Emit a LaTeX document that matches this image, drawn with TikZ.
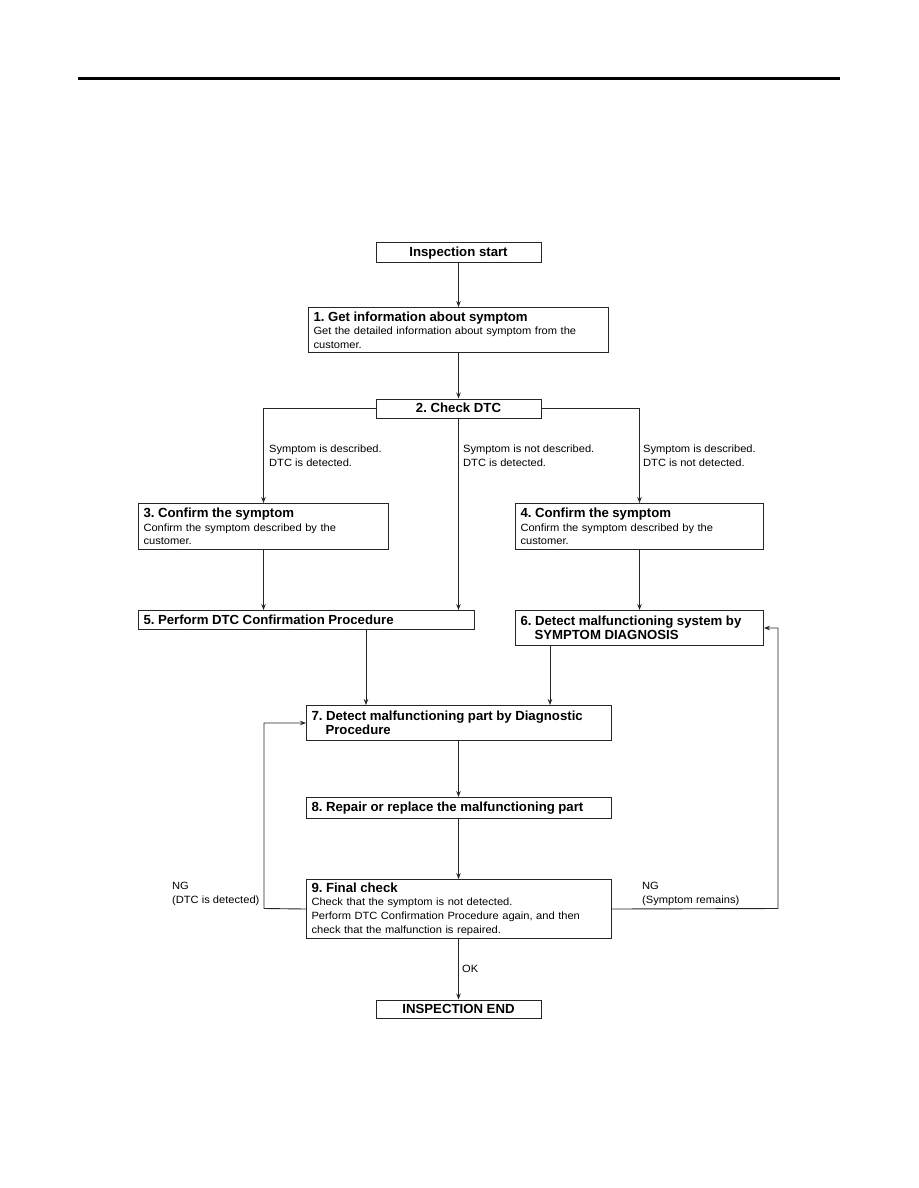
\documentclass[tikz,border=0pt]{standalone}
\usepackage{fontspec}
\setmainfont{Liberation Sans}
\newfontfamily\bodyfam[FakeStretch=1.06]{Liberation Sans}
\usetikzlibrary{arrows.meta}
\frenchspacing
\newcommand{\bodyfont}{\bodyfam\fontsize{10.5}{13.7}\selectfont}
\newcommand{\ttlfont}{\rmfamily\fontsize{13.2}{13.7}\selectfont\bfseries}
\tikzset{
  box/.style={draw=black!85, line width=1pt, anchor=north west, align=left,
    inner xsep=5pt, inner ysep=0pt, font=\bodyfont},
  cbox/.style={draw=black!85, line width=1pt, align=center, inner sep=0pt,
    text height=9.6pt, text depth=0.9pt, font=\ttlfont},
  conn/.style={draw=black!85, line width=0.9pt, -{Stealth[length=6pt,width=4.5pt]}},
  lbl/.style={font=\bodyfont, align=left, anchor=north west, inner sep=0pt},
  rule/.style={line width=3pt}
}
\begin{document}
\begin{tikzpicture}[x=1pt,y=-1pt]
\useasboundingbox (0,0) rectangle (918,1188);
\coordinate (rl) at (78,79);
\coordinate (rr) at (840,79);
\draw[rule] (rl) -- (rr);

\node[cbox, minimum width=165, minimum height=20] (start) at (458.5,252) {Inspection start};
\node[box, minimum width=300, minimum height=45, text width=290] (b1) at (308,307)
  {{\ttlfont 1. Get information about symptom}\\Get the detailed information about symptom from the\\customer.};
\node[cbox, minimum width=165, minimum height=19] (b2) at (458.5,408.5) {2. Check DTC};
\node[box, minimum width=250, minimum height=46, text width=240] (b3) at (138,503)
  {{\ttlfont 3. Confirm the symptom}\\Confirm the symptom described by the\\customer.};
\node[box, minimum width=248, minimum height=46, text width=238] (b4) at (515,503)
  {{\ttlfont 4. Confirm the symptom}\\Confirm the symptom described by the\\customer.};
\node[box, minimum width=336, minimum height=19, text width=326] (b5) at (138,610)
  {\ttlfont 5. Perform DTC Confirmation Procedure};
\node[box, minimum width=248, minimum height=35, text width=238] (b6) at (515,610)
  {\ttlfont 6. Detect malfunctioning system by\\\ttlfont\hspace*{14pt}SYMPTOM DIAGNOSIS};
\node[box, minimum width=305, minimum height=35, text width=295] (b7) at (306,705)
  {\ttlfont 7. Detect malfunctioning part by Diagnostic\\\ttlfont\hspace*{14pt}Procedure};
\node[box, minimum width=305, minimum height=21, text width=295] (b8) at (306,797)
  {\ttlfont 8. Repair or replace the malfunctioning part};
\node[box, minimum width=305, minimum height=59, text width=295] (b9) at (306,879)
  {{\ttlfont 9. Final check}\\Check that the symptom is not detected.\\Perform DTC Confirmation Procedure again, and then\\check that the malfunction is repaired.};
\node[cbox, minimum width=165, minimum height=18] (end) at (458.5,1009) {INSPECTION END};

\node[lbl] (l1) at (269,445) {Symptom is described.\\DTC is detected.};
\node[lbl] (l2) at (463,445) {Symptom is not described.\\DTC is detected.};
\node[lbl] (l3) at (643,445) {Symptom is described.\\DTC is not detected.};
\node[lbl] (l4) at (172,882) {NG\\(DTC is detected)};
\node[lbl] (l5) at (642,882) {NG\\(Symptom remains)};
\node[lbl] (l6) at (462,965) {OK};

\coordinate (c5) at (366,629);
\coordinate (c6) at (550,645);
\coordinate (ngl) at (264,908.5);
\coordinate (ngr) at (778,908.5);

\draw[conn] (start.south) -- (start.south |- b1.north);
\draw[conn] (b1.south -| start.south) -- (start.south |- b2.north);
\draw[conn] (b2.west) -| (b3.north);
\draw[conn] (b2.east) -| (b4.north);
\draw[conn] (b2.south) -- (b2.south |- b5.north);
\draw[conn] (b3.south) -- (b3.south |- b5.north);
\draw[conn] (b4.south) -- (b4.south |- b6.north);
\draw[conn] (c5) -- (c5 |- b7.north);
\draw[conn] (c6) -- (c6 |- b7.north);
\draw[conn] (b7.south -| start.south) -- (start.south |- b8.north);
\draw[conn] (b8.south -| start.south) -- (start.south |- b9.north);
\draw[conn] (b9.south -| start.south) -- (start.south |- end.north);
\draw[conn] (b9.west) -- (ngl) |- (b7.west);
\draw[conn] (b9.east) -- (ngr) |- (b6.east);
\end{tikzpicture}
\end{document}
